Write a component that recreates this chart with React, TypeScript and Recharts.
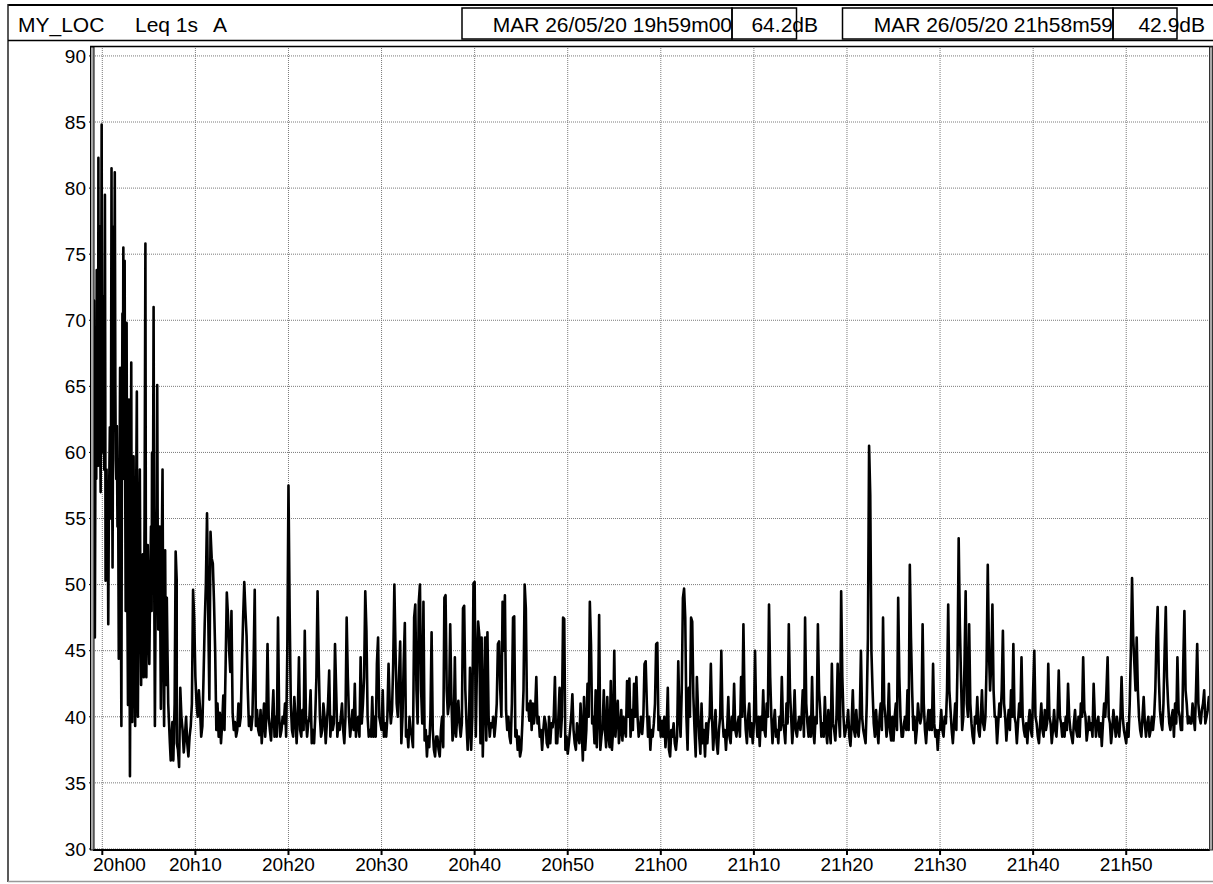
import React from "react";
import { LineChart, Line, XAxis, YAxis, CartesianGrid } from "recharts";

// Leq 1s (dB A). Opening burst read as [minutes from 20h00, dB]
const leqBurst: [number, number][] = [
  [-0.95, 48.5], [-0.9, 71.5], [-0.85, 52], [-0.8, 46], [-0.72, 65], [-0.65, 58], [-0.6, 73.8], [-0.55, 62],
  [-0.5, 70], [-0.45, 59], [-0.42, 82.3], [-0.38, 60], [-0.35, 66.8], [-0.3, 72], [-0.25, 77.1], [-0.21, 60],
  [-0.18, 57], [-0.12, 70], [-0.07, 84.8], [-0.03, 66], [0, 64.4], [0.05, 60], [0.11, 71.8], [0.16, 62],
  [0.21, 58.7], [0.28, 79.5], [0.32, 64], [0.35, 50.3], [0.4, 56], [0.46, 58.7], [0.52, 52], [0.58, 57],
  [0.64, 47], [0.7, 55], [0.75, 58], [0.81, 61.9], [0.87, 55], [0.93, 60], [0.99, 81.5], [1.04, 62],
  [1.1, 51.3], [1.17, 66], [1.24, 77.1], [1.29, 70], [1.34, 81.2], [1.4, 65], [1.45, 59.4], [1.5, 58],
  [1.56, 62], [1.63, 54.4], [1.7, 57], [1.77, 44.4], [1.84, 56], [1.91, 66.4], [1.98, 52], [2.05, 39.3],
  [2.1, 58], [2.16, 70.5], [2.21, 62], [2.26, 75.5], [2.33, 58], [2.4, 74.5], [2.45, 60], [2.51, 48],
  [2.56, 55], [2.61, 69.8], [2.68, 50], [2.76, 40.9], [2.81, 55], [2.86, 64], [2.92, 48], [2.97, 35.5],
  [3.04, 50], [3.11, 66.8], [3.16, 50], [3.22, 39.6], [3.29, 52], [3.36, 59.7], [3.44, 45], [3.53, 39.3],
  [3.62, 55], [3.71, 64.6], [3.76, 50], [3.82, 40], [3.92, 52], [4.03, 58.7], [4.1, 48], [4.17, 42.4],
  [4.26, 50], [4.35, 52.3], [4.4, 47], [4.45, 43], [4.54, 55], [4.63, 75.8], [4.68, 52], [4.73, 43],
  [4.8, 50], [4.88, 53], [4.96, 47], [5.05, 44], [5.14, 50], [5.23, 54.4], [5.3, 48], [5.34, 60],
  [5.42, 50], [5.51, 71], [5.58, 50], [5.65, 39.3], [5.72, 48], [5.8, 51.6], [5.85, 56], [5.9, 65.1],
  [5.96, 52], [6.01, 46.6], [6.1, 50], [6.18, 54.4], [6.24, 46], [6.29, 40.6], [6.38, 52], [6.47, 58.7],
  [6.55, 45], [6.64, 39.3], [6.7, 48], [6.75, 52.6], [6.8, 46], [6.86, 42.4], [6.93, 49], [7.0, 45],
  [7.08, 41], [7.17, 39.5], [7.26, 38], [7.35, 36.7], [7.44, 38.5], [7.53, 39.6], [7.63, 36.7], [7.77, 41],
  [7.88, 52.5], [7.99, 50.4],
];

// after the burst: 8 readings per minute (every 7.5 s), one row per minute
const leq2008 = [
  38, 37.5, 36.2, 42.2, 40, 39, 37.3, 38.5,
  40, 38, 37, 38.5, 39.3, 41, 49.6, 47.4,
  43, 41, 40, 42, 40.6, 38.5, 39.3, 43,
  47, 50, 55.4, 48, 41.3, 54, 52, 51.6,
  48.7, 45, 39, 41, 38.5, 40.3, 38, 39.5,
  41.6, 39, 44, 49.4, 47.7, 45, 43.4, 48,
  40.3, 39, 39.6, 38.5, 39, 41, 39.3, 40,
  44, 47.4, 50.2, 48, 46.1, 42.1, 39.3, 40,
  39, 40, 44, 49.6, 39.3, 40.5, 39, 38.6,
  40.5, 38, 39.5, 41, 38.5, 40, 45.5, 40,
  39, 38.2, 40, 42, 38.5, 40, 38.5, 47.5,
  40, 38.5, 39, 40, 39.5, 41, 38.5, 45,
];
const leq2020 = [
  57.5, 48, 41, 39, 38.5, 41.5, 40, 38,
  40, 44.5, 39, 38.5, 40.5, 39, 46.5, 40,
  38.5, 39.5, 40, 42, 38, 39, 38, 40,
  43, 49.5, 44, 40, 38.5, 39, 41, 40,
  38, 39.5, 41, 43.5, 38.5, 40, 39, 39.5,
  45.5, 42, 38.5, 39.5, 39, 40, 41, 39,
  38, 40, 47.5, 43, 40, 38.5, 39.5, 40.5,
  39, 42.5, 38.5, 39.5, 40, 38.5, 44.5, 39.5,
  41, 43, 49.5, 46.5, 40, 38.5, 39, 38.5,
  41.5, 38.5, 40, 38.5, 44, 46, 40, 39.5,
  39, 42, 38.5, 39.5, 38.5, 40, 44, 41,
  39.5, 40.5, 44, 50, 45, 41, 40, 43,
];
const leq2032 = [
  45.7, 38, 40, 44, 47.1, 38.5, 39, 37.7,
  40, 39, 38.5, 37.7, 47.5, 48.5, 42, 39.5,
  48.7, 50, 42, 39.5, 48.7, 38.2, 39, 37,
  38.5, 37.7, 40, 46.4, 39, 37.5, 37, 38.5,
  38.5, 37.5, 37, 39, 40, 37.7, 49, 49.2,
  42, 40.2, 41, 47, 41.5, 38.2, 39, 44.5,
  38.5, 40, 41.2, 39.5, 38.5, 39.5, 48.2, 48.4,
  42, 39.5, 37.5, 39, 43.7, 37.5, 40, 50.1,
  50.2, 38.5, 44, 47.2, 46.2, 38, 46, 37,
  41, 46, 38.2, 46.4, 40, 38.5, 39.5, 39.2,
  40, 38.5, 39.5, 41, 45.5, 45.7, 42, 40,
  48.7, 45, 49.2, 40.5, 39, 40, 38.5, 38,
];
const leq2044 = [
  41, 47.5, 47.6, 38.5, 39, 37.5, 38.5, 37,
  37.5, 39.5, 42, 50, 48.2, 40.5, 41, 39.7,
  41.2, 39, 41, 39.5, 40.5, 43, 39.5, 40,
  38.5, 39, 37.5, 39, 40, 39.5, 38, 37.7,
  40, 38, 39.5, 39.2, 40, 43, 38, 38,
  40, 42.2, 38.5, 40, 47.5, 47.4, 37.5, 38.5,
  37.2, 38, 39, 40, 41.7, 39, 38, 37.5,
  39.5, 38.5, 38, 41, 39, 36.7, 41.5, 37.5,
  39, 42.5, 40, 48.7, 45.5, 39.5, 40, 38,
  42, 37.7, 40, 47.7, 37.5, 38.5, 39.2, 42,
  39, 37.7, 41.5, 38.5, 37.7, 42.7, 37.5, 39,
  45, 38.5, 40, 41.2, 38, 39, 40.5, 38.2,
];
const leq2056 = [
  40, 39, 38.5, 42.7, 40, 42.9, 38.5, 40.5,
  39, 42.5, 40, 43, 40, 38.5, 39, 40,
  38.7, 40, 44, 44.2, 41, 38.5, 40, 37.5,
  39, 38.5, 39.5, 41, 45.5, 45.6, 39, 40,
  38.5, 39.7, 38.5, 40, 37.7, 39, 42.2, 37.5,
  37, 39, 38.5, 39.5, 38, 37.5, 38.5, 44.2,
  40, 38.5, 42, 49, 49.7, 47.5, 40, 37.5,
  42.2, 40, 47.5, 47.2, 41.5, 39, 37, 43,
  40.5, 38.5, 37.2, 41, 38, 39, 37, 39.5,
  38, 39.5, 40, 44, 40, 37.5, 39, 40.5,
  38, 37.2, 39, 40, 45, 40, 38.5, 39,
  37.5, 39, 41.5, 38.5, 38, 40, 39, 42.5,
];
const leq2108 = [
  39, 38.5, 39.5, 40, 38.5, 43, 40, 47,
  41, 39, 38, 40, 41, 38.5, 39.5, 38,
  39.5, 45, 40, 38.5, 40, 37.8, 40, 39,
  42, 39, 38.5, 41, 40, 48.5, 43, 40,
  38, 39.5, 40.5, 38.5, 39, 38, 40, 39,
  43, 39.5, 39, 38, 41, 39.5, 47, 42,
  40, 38, 39.5, 42, 39, 38.5, 39.5, 40,
  39, 40, 42, 38.5, 47.5, 41, 39.5, 38.5,
  40, 38.5, 43, 39, 38, 40, 39.5, 47,
  42, 40.5, 38.5, 39.5, 38.5, 41.5, 39, 38,
  40.5, 39, 38, 44, 39.5, 39, 38.2, 40,
  44, 40, 38.5, 49.5, 43, 40, 38.5, 39,
];
const leq2120 = [
  39.5, 40.5, 38.5, 37.8, 39.5, 42, 39, 38.5,
  40.5, 39, 38.5, 40, 45, 40, 39, 38.5,
  38, 41, 46, 60.5, 56.8, 45, 42, 39.5,
  38.5, 40.5, 39, 38, 40, 41, 39, 47.5,
  41, 40, 38.5, 39.5, 42.5, 39, 38.2, 40,
  38.2, 40, 41, 39, 49, 43, 40, 38.5,
  38.5, 39.5, 40, 39, 42, 39, 51.5, 46,
  42, 39, 40, 38, 39, 41, 40, 39.5,
  40, 47, 41, 39, 38, 39.5, 40.5, 39,
  40.5, 39, 44, 39.5, 38.5, 39, 37.5, 39,
  39, 40.5, 39, 38.5, 40, 39.5, 42, 48.5,
  42, 40.5, 39, 38, 39.5, 41, 39, 44,
];
const leq2132 = [
  53.5, 47, 43, 39, 40, 44, 49.5, 41,
  40, 47, 41, 39.5, 38.5, 38, 40, 39.5,
  41.5, 39, 38.5, 40, 42, 39.5, 39, 40,
  44, 51.5, 45, 42, 44, 48.5, 42, 40,
  40, 38, 39.5, 41, 40, 42, 46.5, 41,
  40, 38.2, 39.5, 40.5, 39, 42, 40, 45.5,
  40, 39.5, 38, 39.5, 41, 40, 44.5, 40,
  39, 38.5, 39.5, 38, 39.5, 40.5, 39, 38.5,
  42, 45, 40, 39.5, 38.5, 38, 39.5, 41,
  39, 38.5, 40.5, 39, 39.5, 44, 40, 39.5,
  38, 39, 40.5, 39, 38.5, 40, 43.5, 40,
  39.5, 38.5, 39.5, 38.5, 40, 39, 42.5, 40,
];
const leq2144 = [
  39, 38.5, 38, 39.5, 40.5, 39, 38.5, 40,
  38.5, 41, 40, 44.5, 40.5, 40, 38.2, 39,
  40, 39, 39.5, 38.5, 42.5, 40, 38.5, 39.5,
  40, 38.5, 39.5, 37.8, 39.5, 41, 40, 42,
  44.5, 40, 39.5, 38, 39, 40.5, 39.5, 38.5,
  40, 39, 38.5, 40, 43, 40, 39, 38.5,
  38, 39.5, 38.5, 41, 45, 50.5, 46, 44,
  42, 46, 42, 40, 39, 38.5, 40, 41.5,
  39.5, 38.5, 39.5, 40, 38.5, 39, 40, 39,
  40, 42, 46, 48.3, 43, 40.5, 39.5, 39,
  41, 45, 48.3, 43, 41, 39.5, 39, 40,
  40.5, 38.5, 41, 39.5, 44.5, 40.5, 40, 39,
  39, 44, 48, 42, 41, 39.5, 40, 39.5,
  39.5, 41, 40, 39, 42, 45.5, 41, 40,
  39.5, 40.5, 41, 42, 39.5, 40, 40.5, 41.5,
  41.5,
];

const blockStarts = [8, 20, 32, 44, 56, 68, 80, 92, 104];
const blocks = [leq2008, leq2020, leq2032, leq2044, leq2056, leq2108, leq2120, leq2132, leq2144];

const xTicks = [0, 10, 20, 30, 40, 50, 60, 70, 80, 90, 100, 110];
const xTickLabels = ["20h00", "20h10", "20h20", "20h30", "20h40", "20h50", "21h00", "21h10", "21h20", "21h30", "21h40", "21h50"];
const yTicks = [30, 35, 40, 45, 50, 55, 60, 65, 70, 75, 80, 85, 90];

const startStamp = "MAR 26/05/20 19h59m00";
const startValue = "64.2dB";
const endStamp = "MAR 26/05/20 21h58m59";
const endValue = "42.9dB";

const data = [
  ...leqBurst.map(([t, db]) => ({ t, db })),
  ...blocks.flatMap((vals, b) => vals.map((db, i) => ({ t: blockStarts[b] + i / 8, db }))),
];

const FONT = "'Liberation Sans', Arial, sans-serif";
const W = 1213;
const H = 884;
const PLOT_LEFT = 93;

// first label is pushed right so it starts at the axis, like the original software
function TimeTick(props: any) {
  const { x, y, payload, index } = props;
  const label = xTickLabels[xTicks.indexOf(payload.value)] ?? "";
  const first = index === 0;
  return (
    <text
      x={first ? PLOT_LEFT : x}
      y={y}
      dy="0.71em"
      textAnchor={first ? "start" : "middle"}
      fontSize={19}
      fontFamily={FONT}
      fill="#000"
    >
      {label}
    </text>
  );
}

function Frame() {
  const hdr = { fontFamily: FONT, fontSize: 21, fill: "#000" };
  return (
    <svg width={W} height={H} style={{ position: "absolute", left: 0, top: 0, pointerEvents: "none" }}>
      {/* outer frame */}
      <line x1={8} y1={5} x2={W} y2={5} stroke="#000" strokeWidth={2} />
      <line x1={8} y1={4} x2={8} y2={882} stroke="#222" strokeWidth={1.5} />
      <line x1={8} y1={881.5} x2={W} y2={881.5} stroke="#999" strokeWidth={1.5} />
      <line x1={8} y1={40.5} x2={W} y2={40.5} stroke="#000" strokeWidth={1.5} />
      {/* header boxes */}
      <rect x={462} y={8} width={270} height={31} fill="none" stroke="#000" strokeWidth={1.5} />
      <rect x={732} y={8} width={64.5} height={31} fill="none" stroke="#000" strokeWidth={1.5} />
      <rect x={842.5} y={8} width={270.5} height={31} fill="none" stroke="#000" strokeWidth={1.5} />
      <rect x={1113} y={8} width={64} height={31} fill="none" stroke="#000" strokeWidth={1.5} />
      <text x={18} y={32} {...hdr}>MY_LOC</text>
      <text x={135} y={32} {...hdr}>Leq 1s</text>
      <text x={213} y={32} {...hdr}>A</text>
      <text x={732} y={32} textAnchor="end" {...hdr}>{startStamp}</text>
      <text x={818} y={32} textAnchor="end" {...hdr}>{startValue}</text>
      <text x={1113} y={32} textAnchor="end" {...hdr}>{endStamp}</text>
      <text x={1205} y={32} textAnchor="end" {...hdr}>{endValue}</text>
      {/* plot borders */}
      <line x1={90} y1={46.5} x2={W} y2={46.5} stroke="#000" strokeWidth={1.5} />
      <rect x={90.5} y={47} width={3.5} height={803} fill="#a8a8a8" stroke="#000" strokeWidth={1} />
      <rect x={1209.5} y={47} width={3} height={803} fill="#a8a8a8" stroke="#333" strokeWidth={1} />
    </svg>
  );
}

export default function App() {
  return (
    <div style={{ position: "absolute", left: 0, top: 0, width: W, height: H, background: "#fff" }}>
      <LineChart width={W} height={H} data={data} margin={{ top: 48, right: 3, bottom: 4, left: 0 }}>
        <CartesianGrid stroke="#7a7a7a" strokeDasharray="1 1" horizontalValues={yTicks} verticalValues={xTicks} />
        <XAxis
          dataKey="t"
          type="number"
          domain={[-1, 119]}
          ticks={xTicks}
          allowDataOverflow
          height={30}
          tick={<TimeTick />}
          axisLine={{ stroke: "#000", strokeWidth: 2 }}
          tickLine={{ stroke: "#000", strokeWidth: 2 }}
          tickSize={5}
          tickMargin={3}
        />
        <YAxis
          type="number"
          domain={[29.92, 90.6]}
          ticks={yTicks}
          allowDataOverflow
          width={PLOT_LEFT}
          tick={{ fontSize: 19, fill: "#000", fontFamily: FONT }}
          axisLine={{ stroke: "#000", strokeWidth: 1 }}
          tickLine={{ stroke: "#000", strokeWidth: 1 }}
          tickSize={4}
          tickMargin={3}
        />
        <Line
          dataKey="db"
          type="linear"
          stroke="#000"
          strokeWidth={2.6}
          strokeLinejoin="round"
          dot={false}
          isAnimationActive={false}
        />
      </LineChart>
      <Frame />
    </div>
  );
}
